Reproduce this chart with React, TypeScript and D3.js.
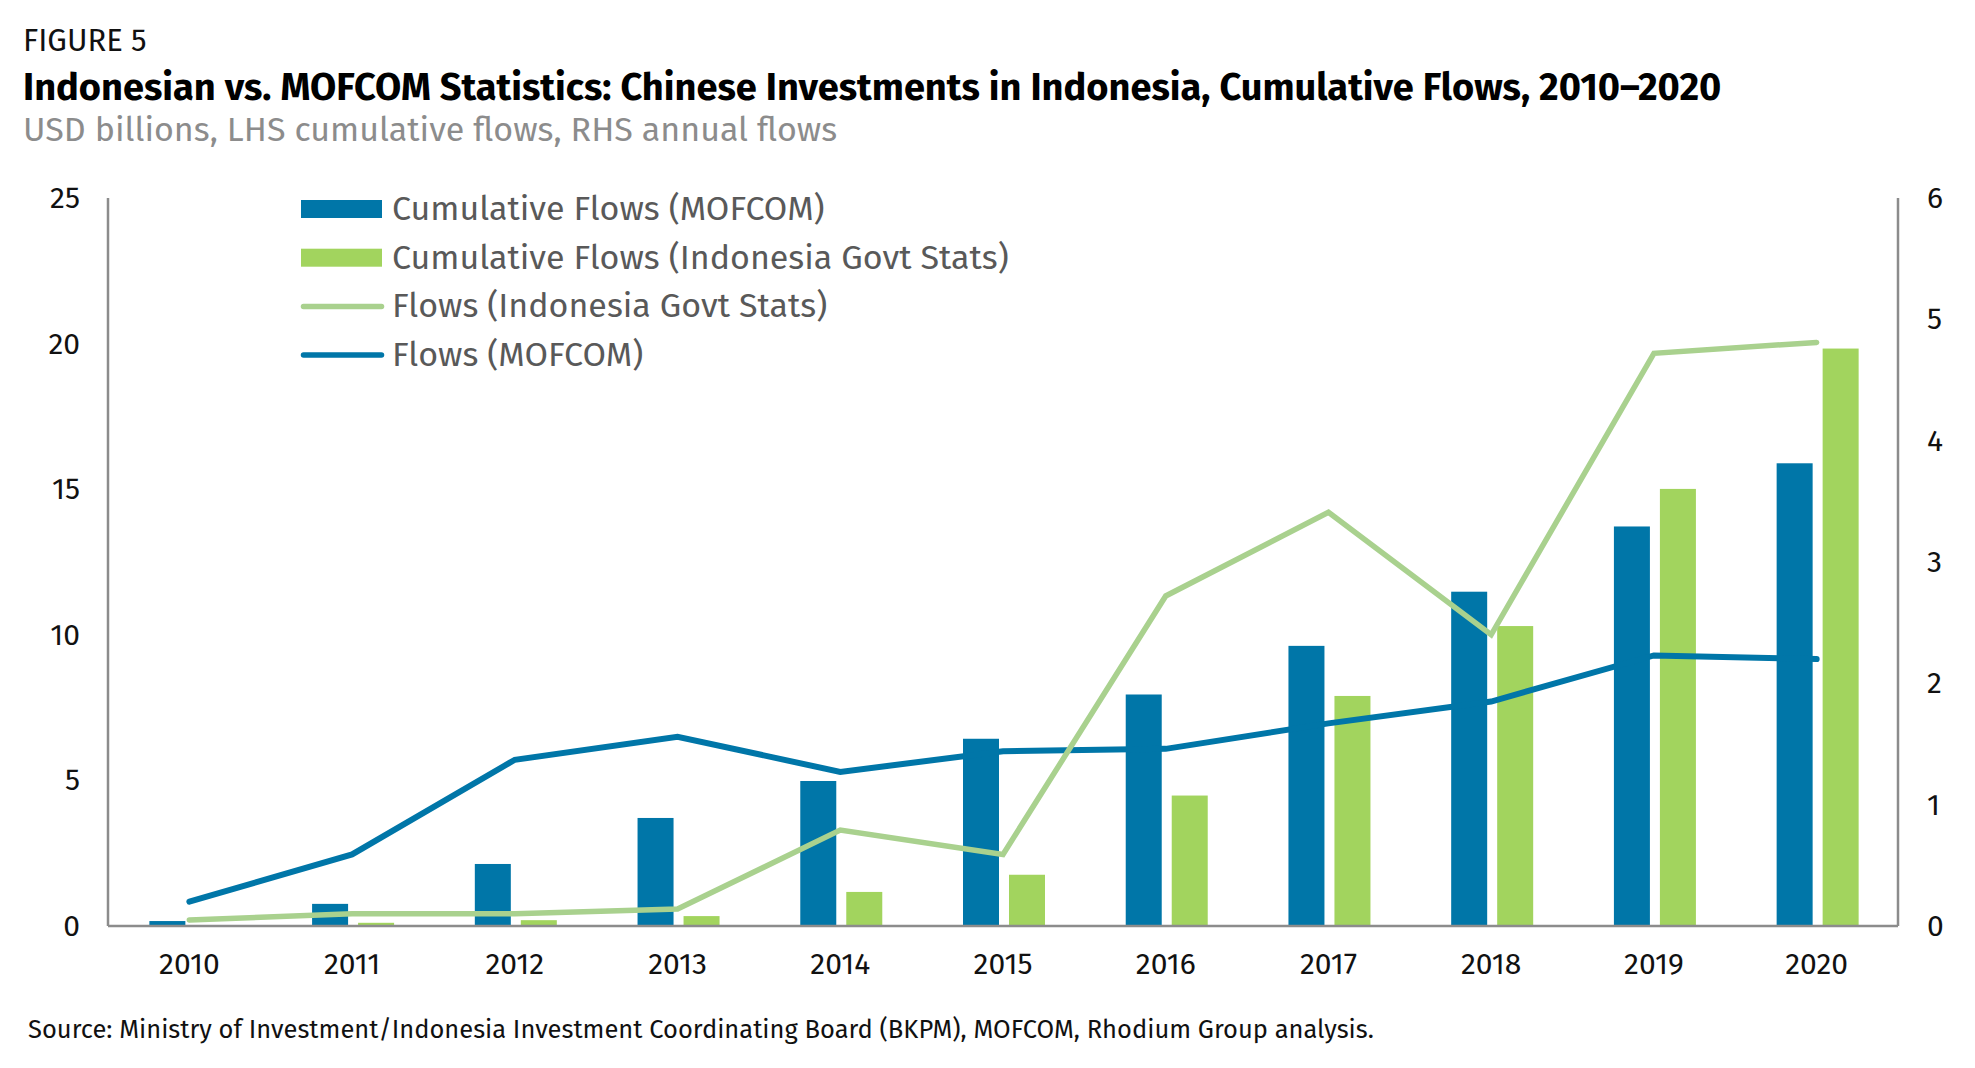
import React from 'react';
import * as d3 from 'd3';

// Chinese investment in Indonesia: cumulative bars (LHS) and annual flow lines (RHS)

const years = ['2010', '2011', '2012', '2013', '2014', '2015', '2016', '2017', '2018', '2019', '2020'];
const cumMofcom = [0.17, 0.76, 2.13, 3.71, 4.98, 6.43, 7.95, 9.62, 11.48, 13.72, 15.89];
const cumIndo = [0.02, 0.11, 0.2, 0.34, 1.17, 1.76, 4.48, 7.9, 10.3, 15.01, 19.83];
const flowIndo = [0.05, 0.1, 0.1, 0.14, 0.79, 0.59, 2.72, 3.41, 2.4, 4.72, 4.81];
const flowMofcom = [0.2, 0.59, 1.37, 1.56, 1.27, 1.44, 1.46, 1.67, 1.85, 2.23, 2.2];
const leftTicks = [0, 5, 10, 15, 20, 25];
const rightTicks = [0, 1, 2, 3, 4, 5, 6];

const W = 1975;
const H = 1068;
const X0 = 108;
const X1 = 1898;
const Y_TOP = 198;
const Y_BOT = 926;

const BLUE = '#0076a8';
const GREEN_BAR = '#a2d45e';
const GREEN_LINE = '#a9d18e';
const AXIS = '#8c8c8c';
const FONT = "'Fira Sans', 'Open Sans', sans-serif";

const legendItems = [
  { label: 'Cumulative Flows (MOFCOM)', kind: 'rect', color: BLUE },
  { label: 'Cumulative Flows (Indonesia Govt Stats)', kind: 'rect', color: GREEN_BAR },
  { label: 'Flows (Indonesia Govt Stats)', kind: 'line', color: GREEN_LINE },
  { label: 'Flows (MOFCOM)', kind: 'line', color: BLUE },
];

export default function App() {
  const x = d3.scaleBand().domain(years).range([X0, X1]).padding(0);
  const center = (yr) => x(yr) + x.bandwidth() / 2;
  const sub = d3.scaleBand().domain(['mofcom', 'indo']).range([-40, 42]).paddingInner(10 / 46);
  const yL = d3.scaleLinear().domain([0, 25]).range([Y_BOT, Y_TOP]);
  const yR = d3.scaleLinear().domain([0, 6]).range([Y_BOT, Y_TOP]);

  const line = d3
    .line()
    .x((d, i) => center(years[i]))
    .y((d) => yR(d));

  return (
    <svg
      width={W}
      height={H}
      style={{ position: 'absolute', left: 0, top: 0, background: '#fff' }}
      fontFamily={FONT}
    >
      <rect width={W} height={H} fill="#fff" />

      {/* header */}
      <text x={23} y={51} fontSize={31} fill="#111">FIGURE 5</text>
      <text x={23} y={100} fontSize={38} fontWeight={700} fill="#000">
        Indonesian vs. MOFCOM Statistics: Chinese Investments in Indonesia, Cumulative Flows, 2010–2020
      </text>
      <text x={23} y={141} fontSize={34} fill="#8c8c8c">
        USD billions, LHS cumulative flows, RHS annual flows
      </text>

      {/* bars */}
      {years.map((yr, i) => (
        <g key={yr}>
          <rect
            x={center(yr) + sub('mofcom')}
            y={yL(cumMofcom[i])}
            width={sub.bandwidth()}
            height={Y_BOT - yL(cumMofcom[i])}
            fill={BLUE}
          />
          <rect
            x={center(yr) + sub('indo')}
            y={yL(cumIndo[i])}
            width={sub.bandwidth()}
            height={Y_BOT - yL(cumIndo[i])}
            fill={GREEN_BAR}
          />
        </g>
      ))}

      {/* flow lines */}
      <path d={line(flowMofcom)} fill="none" stroke={BLUE} strokeWidth={6} strokeLinecap="round" />
      <path d={line(flowIndo)} fill="none" stroke={GREEN_LINE} strokeWidth={5.5} strokeLinecap="round" />

      {/* axes */}
      <line x1={X0} x2={X0} y1={Y_TOP} y2={Y_BOT} stroke={AXIS} strokeWidth={2.5} />
      <line x1={X1} x2={X1} y1={Y_TOP} y2={Y_BOT} stroke={AXIS} strokeWidth={2.5} />
      <line x1={X0} x2={X1} y1={Y_BOT} y2={Y_BOT} stroke={AXIS} strokeWidth={2.5} />

      {leftTicks.map((t) => (
        <text key={`l${t}`} x={80} y={yL(t) + 10} fontSize={30} textAnchor="end" fill="#111">
          {t}
        </text>
      ))}
      {rightTicks.map((t) => (
        <text key={`r${t}`} x={1927} y={yR(t) + 10} fontSize={30} fill="#111">
          {t}
        </text>
      ))}
      {years.map((yr) => (
        <text key={`x${yr}`} x={center(yr)} y={974} fontSize={30} textAnchor="middle" fill="#111">
          {yr}
        </text>
      ))}

      {/* legend */}
      {legendItems.map((it, i) => {
        const cy = 209 + i * 48.7;
        return (
          <g key={it.label}>
            {it.kind === 'rect' ? (
              <rect x={301} y={cy - 9} width={81} height={18} fill={it.color} />
            ) : (
              <line
                x1={303.5}
                x2={381.5}
                y1={cy}
                y2={cy}
                stroke={it.color}
                strokeWidth={5.5}
                strokeLinecap="round"
              />
            )}
            <text x={392} y={cy + 11} fontSize={34} fill="#595959">
              {it.label}
            </text>
          </g>
        );
      })}

      {/* source */}
      <text x={28} y={1038} fontSize={25.5} fill="#111">
        Source: Ministry of Investment/Indonesia Investment Coordinating Board (BKPM), MOFCOM, Rhodium Group analysis.
      </text>
    </svg>
  );
}
